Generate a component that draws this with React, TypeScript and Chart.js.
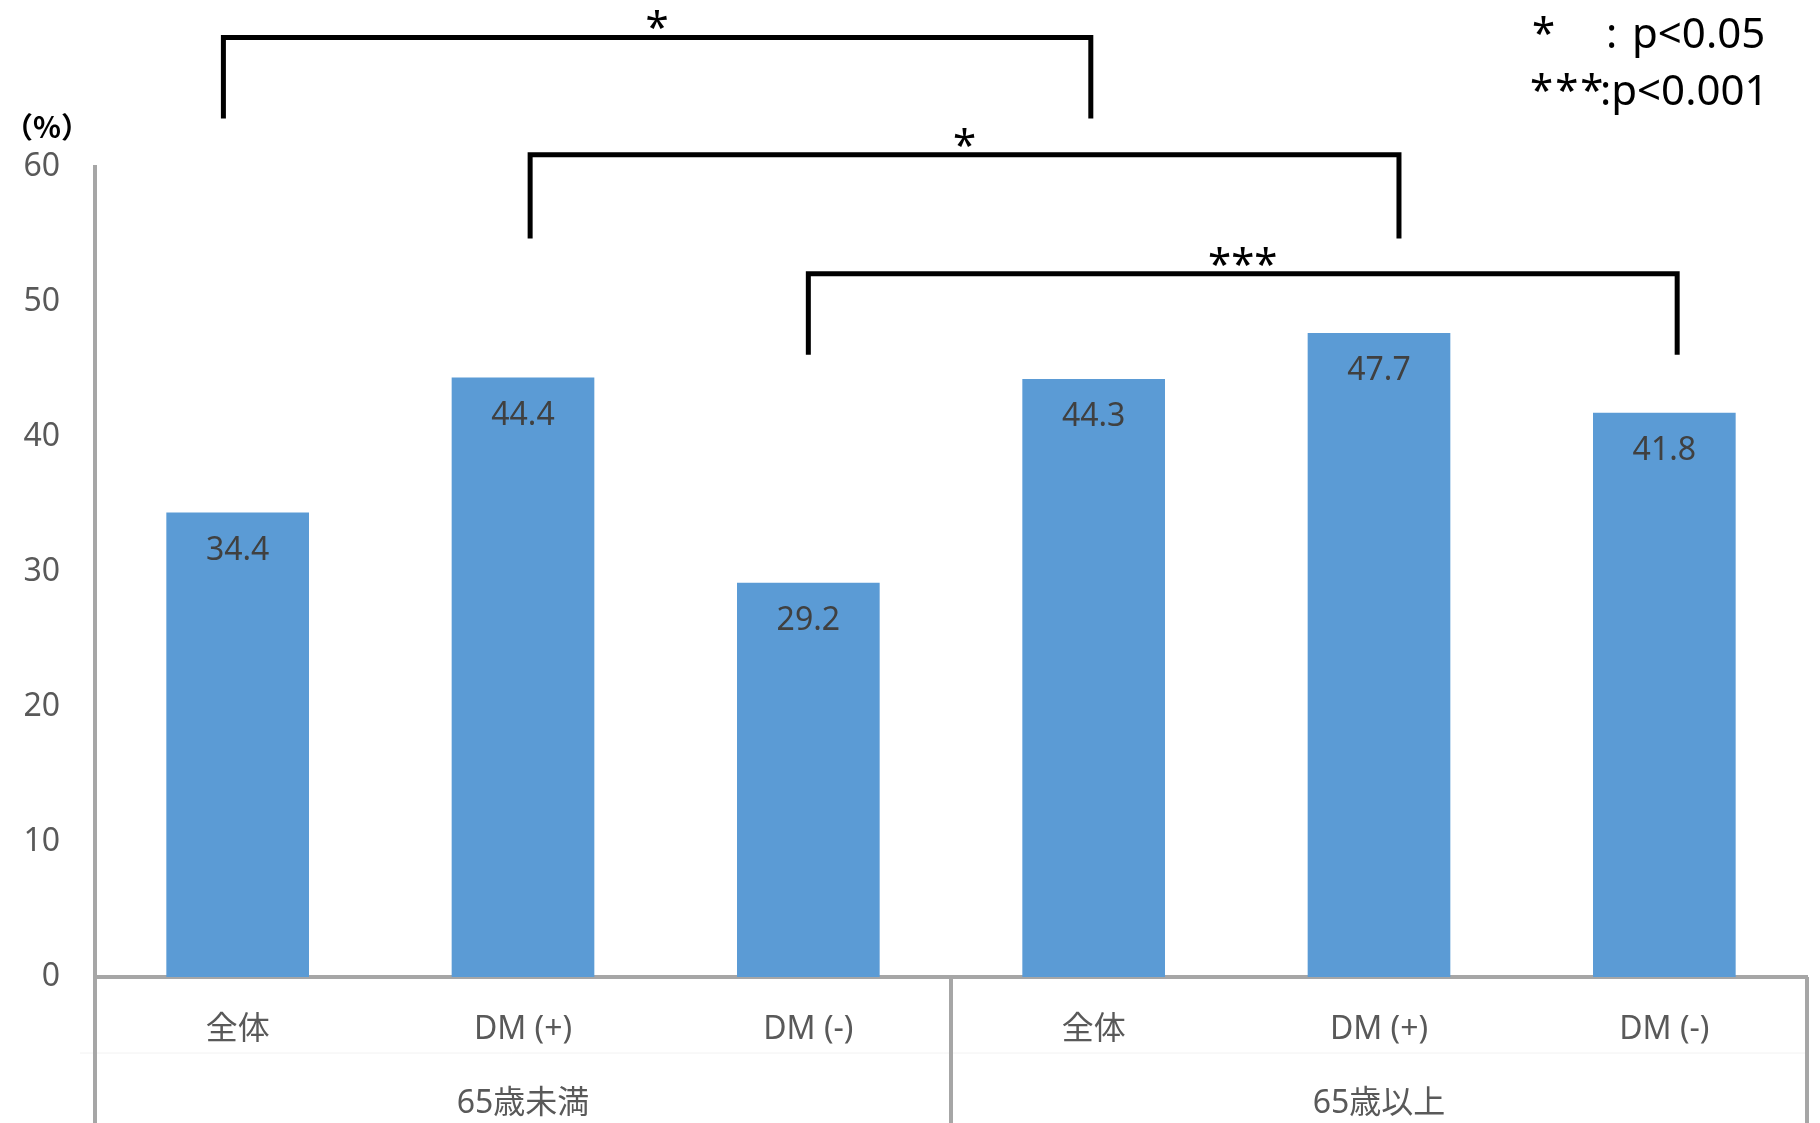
import React, { useEffect, useRef } from 'react';
import { Chart, registerables } from 'chart.js';

Chart.register(...registerables);

const categories = ['全体', 'DM (+)', 'DM (-)', '全体', 'DM (+)', 'DM (-)'];
const groups = ['65歳未満', '65歳以上'];
const values = [34.4, 44.4, 29.2, 44.3, 47.7, 41.8];
const yMin = 0;
const yMax = 60;
const yStep = 10;
const unitLabel = '（%）';
// significance brackets: category positions (fractional index) and value levels
const bracketFrom = [-0.05, 1.025, 2.0];
const bracketTo = [2.99, 4.07, 5.045];
const bracketTop = [69.6, 60.9, 52.1];
const bracketBottom = [63.6, 54.7, 46.1];
const bracketMarks = ['*', '*', '***'];
const legendLines = [
  ['*', ':', 'p<0.05'],
  ['***', ':p<0.001', ''],
];

const FONT = '"Noto Sans", "Noto Sans CJK JP", sans-serif';
const AXIS_GRAY = '#A6A6A6';
const TEXT_GRAY = '#595959';
const BAR_BLUE = '#5B9BD5';

const decorPlugin = {
  id: 'decor',
  afterDatasetsDraw(chart: any) {
    const ctx = chart.ctx;
    const meta = chart.getDatasetMeta(0);
    ctx.save();
    ctx.fillStyle = '#404040';
    ctx.font = `32px ${FONT}`;
    ctx.textAlign = 'center';
    ctx.textBaseline = 'middle';
    meta.data.forEach((el: any, i: number) => {
      ctx.fillText(values[i].toFixed(1), el.x, el.y + 38);
    });
    ctx.restore();
  },
  afterDraw(chart: any) {
    const ctx = chart.ctx;
    const area = chart.chartArea;
    const xs = chart.scales.x;
    const ys = chart.scales.y;
    const step = xs.getPixelForValue(1) - xs.getPixelForValue(0);
    const px = (pos: number) => xs.getPixelForValue(0) + pos * step;
    ctx.save();
    // table separators below the axis
    ctx.strokeStyle = '#F2F2F2';
    ctx.lineWidth = 1;
    ctx.beginPath();
    ctx.moveTo(80, area.bottom + 76);
    ctx.lineTo(area.right, area.bottom + 76);
    ctx.stroke();
    ctx.strokeStyle = AXIS_GRAY;
    ctx.lineWidth = 4;
    const mid = (xs.getPixelForValue(2) + xs.getPixelForValue(3)) / 2;
    [area.left, mid, area.right].forEach((x) => {
      ctx.beginPath();
      ctx.moveTo(x, area.bottom);
      ctx.lineTo(x, chart.height);
      ctx.stroke();
    });
    // brackets
    ctx.strokeStyle = '#000';
    ctx.fillStyle = '#000';
    ctx.lineWidth = 5;
    ctx.lineCap = 'butt';
    bracketFrom.forEach((f, i) => {
      const x1 = px(f);
      const x2 = px(bracketTo[i]);
      const yt = ys.getPixelForValue(bracketTop[i]);
      const yb = ys.getPixelForValue(bracketBottom[i]);
      ctx.beginPath();
      ctx.moveTo(x1, yb);
      ctx.lineTo(x1, yt);
      ctx.lineTo(x2, yt);
      ctx.lineTo(x2, yb);
      ctx.stroke();
      ctx.font = `42px ${FONT}`;
      ctx.textAlign = 'center';
      ctx.textBaseline = 'alphabetic';
      ctx.fillText(bracketMarks[i], (x1 + x2) / 2, yt + 5);
    });
    // unit label
    ctx.font = `bold 29px "Noto Sans CJK JP", sans-serif`;
    ctx.textAlign = 'left';
    ctx.textBaseline = 'middle';
    ctx.fillStyle = '#000';
    ctx.fillText(unitLabel, 4, 127);
    // significance legend
    ctx.font = `42px ${FONT}`;
    ctx.textBaseline = 'alphabetic';
    const W = chart.width;
    ctx.fillText(legendLines[0][0], W - 288, 48);
    ctx.fillText(legendLines[0][1], W - 214, 48);
    ctx.fillText(legendLines[0][2], W - 188, 48);
    (ctx as any).letterSpacing = '2px';
    ctx.fillText(legendLines[1][0], W - 290, 105);
    (ctx as any).letterSpacing = '0px';
    ctx.fillText(legendLines[1][1], W - 220, 105);
    ctx.restore();
  },
};

export default function App() {
  const ref = useRef<HTMLCanvasElement | null>(null);
  useEffect(() => {
    if (!ref.current) return;
    const tickFont = { size: 32, family: FONT };
    const chart = new Chart(ref.current, {
      type: 'bar',
      data: {
        labels: categories,
        datasets: [
          {
            data: values,
            backgroundColor: BAR_BLUE,
            borderWidth: 0,
            categoryPercentage: 1,
            barPercentage: 0.5,
            xAxisID: 'x',
            yAxisID: 'y',
          },
        ],
      },
      options: {
        animation: false,
        responsive: false,
        devicePixelRatio: 1,
        layout: { padding: { top: 167, right: 13, left: 0, bottom: 0 } },
        plugins: { legend: { display: false }, tooltip: { enabled: false }, title: { display: false } },
        scales: {
          x: {
            type: 'category',
            labels: categories,
            position: 'bottom',
            offset: true,
            grid: { display: false, drawTicks: false },
            border: { display: true, color: AXIS_GRAY, width: 4 },
            ticks: { color: TEXT_GRAY, font: tickFont, padding: 34, maxRotation: 0, autoSkip: false },
            afterFit: (s: any) => { s.height = 74; },
          },
          x2: {
            type: 'category',
            labels: groups,
            position: 'bottom',
            offset: true,
            grid: { display: false, drawTicks: false },
            border: { display: false },
            ticks: { color: TEXT_GRAY, font: tickFont, padding: 34, maxRotation: 0, autoSkip: false },
            afterFit: (s: any) => { s.height = 72; },
          },
          y: {
            min: yMin,
            max: yMax,
            ticks: { stepSize: yStep, color: TEXT_GRAY, font: tickFont, padding: 35 },
            grid: { display: false, drawTicks: false },
            border: { display: true, color: AXIS_GRAY, width: 4 },
            afterFit: (s: any) => { s.width = 95; },
          },
        },
      } as any,
      plugins: [decorPlugin],
    });
    return () => chart.destroy();
  }, []);
  return (
    <div style={{ position: 'absolute', left: 0, top: 0, width: 1820, height: 1123, background: '#fff' }}>
      <canvas ref={ref} width={1820} height={1123} style={{ width: 1820, height: 1123 }} />
    </div>
  );
}
